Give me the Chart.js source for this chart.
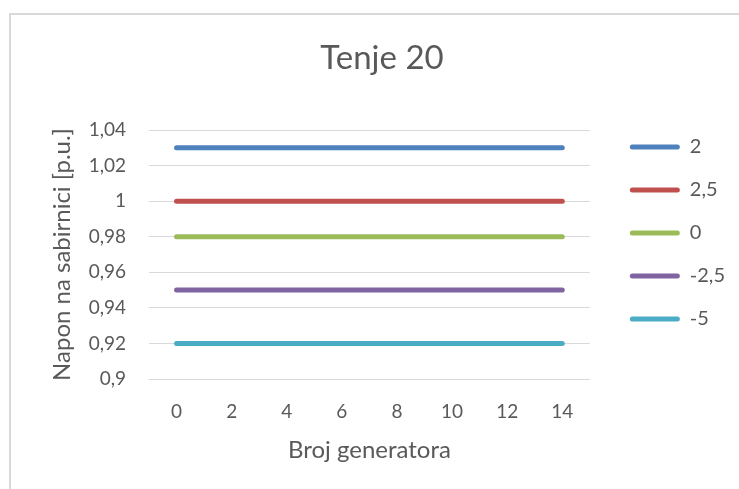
<!DOCTYPE html>
<html>
<head>
<meta charset="utf-8">
<script src="https://cdn.jsdelivr.net/npm/chart.js@4"></script>
<style>
  body { margin: 0; background: #fff; }
  canvas { display: block; }
</style>
</head>
<body>
<canvas id="canvas" width="739" height="489"></canvas>
<script>
// Tenje 20 - napon na sabirnici
const generatori = ['0', '2', '4', '6', '8', '10', '12', '14'];
const naziviSerija = ['2', '2,5', '0', '-2,5', '-5'];
const boje = ['#4f81bd', '#c0504d', '#9bbb59', '#8064a2', '#4bacc6'];

const napon2 = [1.03, 1.03, 1.03, 1.03, 1.03, 1.03, 1.03, 1.03];
const napon25 = [1.00, 1.00, 1.00, 1.00, 1.00, 1.00, 1.00, 1.00];
const napon0 = [0.98, 0.98, 0.98, 0.98, 0.98, 0.98, 0.98, 0.98];
const naponM25 = [0.95, 0.95, 0.95, 0.95, 0.95, 0.95, 0.95, 0.95];
const naponM5 = [0.92, 0.92, 0.92, 0.92, 0.92, 0.92, 0.92, 0.92];

const yMin = 0.9, yMax = 1.04, yKorak = 0.02;

Chart.defaults.font.family = 'Lato';
Chart.defaults.color = '#595959';

const ctx = document.getElementById('canvas').getContext('2d');

const okvir = {
    id: 'okvir',
    beforeDraw(chart) {
        const c = chart.ctx;
        c.save();
        c.strokeStyle = '#d9d9d9';
        c.lineWidth = 2;
        c.strokeRect(10, 14, 800, 600);
        c.restore();
    }
};

const serije = [napon2, napon25, napon0, naponM25, naponM5].map((d, i) => ({
    label: naziviSerija[i],
    data: d,
    borderColor: boje[i],
    backgroundColor: boje[i],
    borderWidth: 5,
    borderCapStyle: 'round',
    pointRadius: 0,
    pointHoverRadius: 0,
    tension: 0
}));

const fmt = v => parseFloat(Number(v).toFixed(2)).toString().replace('.', ',');

new Chart(ctx, {
    type: 'line',
    data: { labels: generatori, datasets: serije },
    options: {
        responsive: false,
        animation: false,
        layout: { padding: { left: 29, right: 4, top: 0, bottom: 0 } },
        plugins: {
            title: {
                display: true,
                text: 'Tenje 20',
                font: { size: 33, weight: 'normal' },
                color: '#595959',
                padding: { top: 39, bottom: 51.4 }
            },
            legend: {
                position: 'right',
                align: 'start',
                maxWidth: 140,
                title: { display: true, text: '', font: { size: 10 }, padding: { top: 102, bottom: 0 } },
                labels: {
                    boxWidth: 50,
                    boxHeight: 5,
                    useBorderRadius: true,
                    borderRadius: 2.5,
                    padding: 23,
                    font: { size: 20 },
                    color: '#595959',
                    generateLabels: chart => Chart.defaults.plugins.legend.labels.generateLabels(chart)
                        .map(l => Object.assign(l, { lineWidth: 0 }))
                }
            },
            tooltip: { enabled: false }
        },
        scales: {
            x: {
                type: 'category',
                offset: true,
                grid: { display: false, drawTicks: false },
                border: { display: false },
                ticks: { font: { size: 19 }, padding: 21.5, maxRotation: 0, autoSkip: false },
                title: {
                    display: true,
                    text: 'Broj generatora',
                    font: { size: 24 },
                    padding: { top: 0, bottom: 24.5 }
                },
                afterFit: s => { s.height = 110; }
            },
            y: {
                min: yMin,
                max: yMax,
                grid: { color: '#d9d9d9', lineWidth: 1, drawTicks: false },
                border: { display: false },
                ticks: { stepSize: yKorak, font: { size: 19 }, padding: 23, callback: v => fmt(v) },
                title: {
                    display: true,
                    text: 'Napon na sabirnici [p.u.]',
                    font: { size: 24 },
                    padding: { top: 19, bottom: 0 }
                },
                afterFit: s => { s.width = 120; }
            },
            y2: {
                position: 'right',
                display: true,
                grid: { display: false, drawTicks: false },
                border: { display: false },
                ticks: { display: false },
                afterFit: s => { s.width = 17; }
            }
        }
    },
    plugins: [okvir]
});
</script>
</body>
</html>
